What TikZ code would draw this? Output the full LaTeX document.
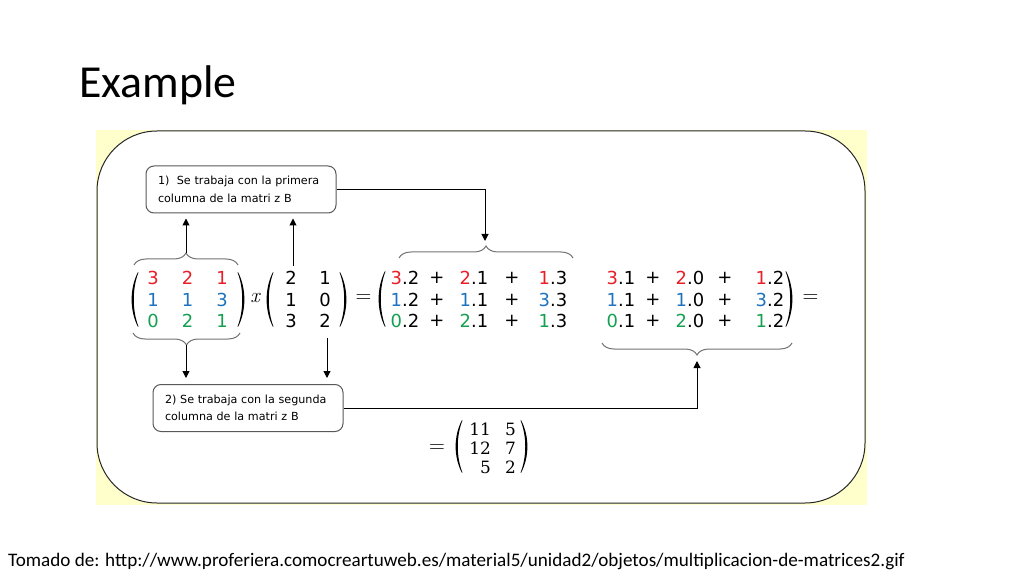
\documentclass[tikz,border=0pt]{standalone}
\usepackage{fontspec}
\setsansfont{Carlito}
\newfontfamily\dv{DejaVu Sans}
\newfontfamily\dvs{DejaVu Serif}
\usetikzlibrary{arrows.meta,decorations.pathreplacing}
\definecolor{cred}{RGB}{232,30,40}
\definecolor{cblue}{RGB}{30,115,190}
\definecolor{cgreen}{RGB}{20,160,80}
\definecolor{paleyellow}{RGB}{255,255,204}
\newcommand\lpa[3]{\fill ({#1+7},{#2}) .. controls ({#1-1.5},{#2+0.3*(#3-#2)}) and ({#1-1.5},{#3-0.3*(#3-#2)}) .. ({#1+7},{#3}) -- ({#1+7.4},{#3-0.6}) .. controls ({#1+1.2},{#3-0.3*(#3-#2)}) and ({#1+1.2},{#2+0.3*(#3-#2)}) .. ({#1+7.4},{#2+0.6}) -- cycle;}
\newcommand\rpa[3]{\fill ({#1-7},{#2}) .. controls ({#1+1.5},{#2+0.3*(#3-#2)}) and ({#1+1.5},{#3-0.3*(#3-#2)}) .. ({#1-7},{#3}) -- ({#1-7.4},{#3-0.6}) .. controls ({#1-1.2},{#3-0.3*(#3-#2)}) and ({#1-1.2},{#2+0.3*(#3-#2)}) .. ({#1-7.4},{#2+0.6}) -- cycle;}
\newcommand\R[1]{{\color{cred}#1}}
\newcommand\B[1]{{\color{cblue}#1}}
\newcommand\G[1]{{\color{cgreen}#1}}
\begin{document}
\begin{tikzpicture}[x=1bp,y=-1bp,
  ent/.style={inner sep=0pt, font=\dv\fontsize{18}{20}\selectfont},
  res/.style={inner sep=0pt, font=\dvs\fontsize{17}{20}\selectfont},
  eqs/.style={inner sep=0pt, font=\rmfamily\fontsize{22}{22}\selectfont},
  box/.style={draw=black!65, line width=1bp, rounded corners=8bp, minimum width=190bp, minimum height=47bp, inner sep=0pt, align=left, text width=166bp, font=\dv\fontsize{11.2}{17.5}\selectfont},
  gbrace/.style={draw=black!55, line width=1bp, decorate, decoration={brace, amplitude=12bp}},
  arr/.style={-{Triangle[length=7bp,width=7bp]}, line width=1bp, black}]
\useasboundingbox (0,0) rectangle (1024,576);
% title and footer
\node[anchor=base west, inner sep=0pt, font=\sffamily\fontsize{46}{50}\selectfont] (title) at (79,98) {Example};
\node[anchor=base west, inner sep=0pt, font=\sffamily\fontsize{19.2}{21}\selectfont] (foot) at (8,566) {Tomado de: http://www.proferiera.comocreartuweb.es/material5/unidad2/objetos/multiplicacion-de-matrices2.gif};
% frame
\fill[paleyellow] (96,130) rectangle (867,505);
\draw[fill=white, rounded corners=60bp, line width=1bp, draw=black!85] (97,131) rectangle (865,503);
% boxes
\node[box] (box1) at (241,189.5) {1)\ \ Se trabaja con la primera\\columna de la matri z B};
\node[box] (box2) at (248,408) {2) Se trabaja con la segunda\\columna de la matri z B};
% matrix A
\node[ent] (a11) at (153,278) {\R{3}};
\node[ent] (a12) at (187.5,278) {\R{2}};
\node[ent] (a13) at (222,278) {\R{1}};
\node[ent] (a21) at (153,300) {\B{1}};
\node[ent] (a22) at (187.5,300) {\B{1}};
\node[ent] (a23) at (222,300) {\B{3}};
\node[ent] (a31) at (153,321) {\G{0}};
\node[ent] (a32) at (187.5,321) {\G{2}};
\node[ent] (a33) at (222,321) {\G{1}};
\lpa{131}{272}{327}
\rpa{245}{272}{327}
\node[inner sep=0pt, font=\rmfamily\itshape\fontsize{21}{22}\selectfont] (times) at (255,298) {x};
% matrix B
\node[ent] (b11) at (291,278) {2};
\node[ent] (b12) at (325,278) {1};
\node[ent] (b21) at (291,300) {1};
\node[ent] (b22) at (325,300) {0};
\node[ent] (b31) at (291,321) {3};
\node[ent] (b32) at (325,321) {2};
\lpa{266}{272}{327}
\rpa{347}{272}{327}
\node[eqs] (eq1) at (363.5,299) {=};
% big matrix
\lpa{378}{271}{327}
\node[ent] (p11) at (405,278) {\R{3}.2};
\node[ent] (q11) at (437,278) {+};
\node[ent] (p12) at (474,278) {\R{2}.1};
\node[ent] (q12) at (512,278) {+};
\node[ent] (p13) at (553,278) {\R{1}.3};
\node[ent] (p14) at (621,278) {\R{3}.1};
\node[ent] (q14) at (653,278) {+};
\node[ent] (p15) at (690,278) {\R{2}.0};
\node[ent] (q15) at (725,278) {+};
\node[ent] (p16) at (770,278) {\R{1}.2};
\node[ent] (p21) at (405,300) {\B{1}.2};
\node[ent] (q21) at (437,300) {+};
\node[ent] (p22) at (474,300) {\B{1}.1};
\node[ent] (q22) at (512,300) {+};
\node[ent] (p23) at (553,300) {\B{3}.3};
\node[ent] (p24) at (621,300) {\B{1}.1};
\node[ent] (q24) at (653,300) {+};
\node[ent] (p25) at (690,300) {\B{1}.0};
\node[ent] (q25) at (725,300) {+};
\node[ent] (p26) at (770,300) {\B{3}.2};
\node[ent] (p31) at (405,321) {\G{0}.2};
\node[ent] (q31) at (437,321) {+};
\node[ent] (p32) at (474,321) {\G{2}.1};
\node[ent] (q32) at (512,321) {+};
\node[ent] (p33) at (553,321) {\G{1}.3};
\node[ent] (p34) at (621,321) {\G{0}.1};
\node[ent] (q34) at (653,321) {+};
\node[ent] (p35) at (690,321) {\G{2}.0};
\node[ent] (q35) at (725,321) {+};
\node[ent] (p36) at (770,321) {\G{1}.2};
\rpa{793}{271}{327}
\node[eqs] (eq2) at (810.5,299) {=};
% result
\node[eqs] (eq3) at (437,449) {=};
\lpa{455}{420}{473}
\rpa{528}{420}{473}
\node[res, anchor=east] (r11) at (491,429) {11};
\node[res, anchor=east] (r12) at (516,429) {5};
\node[res, anchor=east] (r21) at (491,448) {12};
\node[res, anchor=east] (r22) at (516,448) {7};
\node[res, anchor=east] (r31) at (491,467) {5};
\node[res, anchor=east] (r32) at (516,467) {2};
% braces
\draw[gbrace] (134,265) -- (238,265);
\draw[gbrace] (399,258) -- (573,258);
\draw[gbrace] (240,333) -- (133,333);
\draw[gbrace] (792,343) -- (602,343);
% connectors
\coordinate (bA) at (186,253);
\coordinate (mB) at (293,266);
\coordinate (bTop) at (485,246);
\coordinate (bAlow) at (186,345);
\coordinate (mBlow) at (327,338);
\coordinate (bR) at (697,355);
\draw[arr, shorten >=5bp] (bA) -- (bA |- box1.south);
\draw[arr, shorten >=5bp] (mB) -- (mB |- box1.south);
\draw[arr, shorten >=5bp] (box1.east) -| (bTop);
\draw[arr, shorten >=6bp] (bAlow) -- (bAlow |- box2.north);
\draw[arr, shorten >=6bp] (mBlow) -- (mBlow |- box2.north);
\draw[arr, shorten >=6bp] (box2.east) -| (bR);
\end{tikzpicture}
\end{document}
